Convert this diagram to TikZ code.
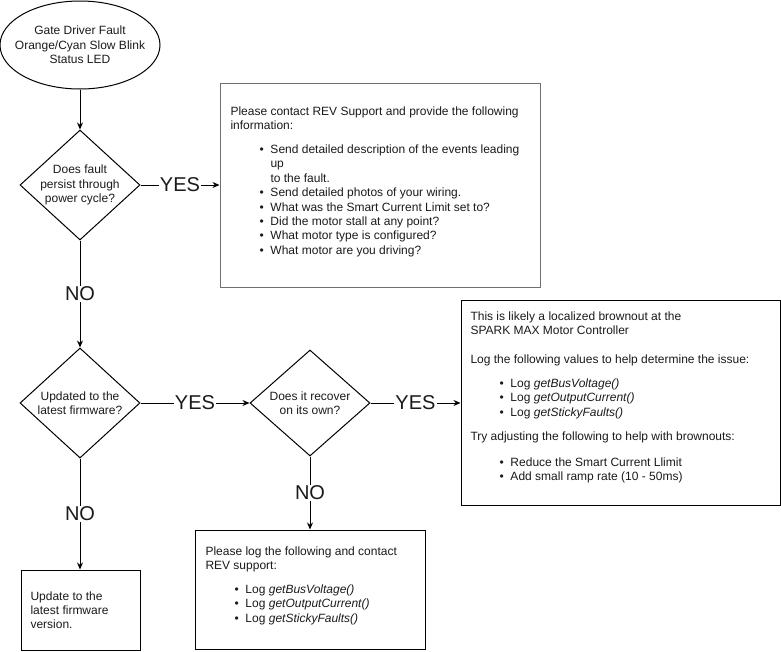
\documentclass[tikz,border=0pt]{standalone}
\usepackage{fontspec}
\setmainfont{Liberation Sans}
\usetikzlibrary{shapes.geometric,arrows.meta}
\definecolor{boxgray}{HTML}{707070}
\definecolor{txtc}{HTML}{1A1A1A}
\newcommand\blt{\makebox[40pt][l]{\hspace{29pt}\textbullet}}
\begin{document}
\begin{tikzpicture}[x=1pt,y=-1pt, line width=1pt,
  tx/.style={font=\fontsize{12}{14.4}\selectfont, inner sep=0pt, text=txtc},
  ctx/.style={tx, align=center},
  lbl/.style={font=\fontsize{20}{24}\selectfont, fill=white, inner sep=1pt, text=txtc},
  shp/.style={draw, inner sep=0pt},
  dia/.style={shp, diamond, minimum width=120pt, minimum height=#1},
  arr/.style={-{Stealth[length=7pt,width=6pt]}}]
\useasboundingbox (0,0) rectangle (781,651);

% shapes
\node[shp, ellipse, minimum width=160pt, minimum height=88pt] (start) at (80,45) {};
\node[ctx] (startt) at (start.center) {Gate Driver Fault\\Orange/Cyan Slow Blink\\Status LED};

\node[dia=110pt] (d1) at (80,185) {};
\node[ctx] (d1t) at (d1.center) {Does fault\\persist through\\power cycle?};

\node[dia=110pt] (d2) at (80,403) {};
\node[ctx] (d2t) at (d2.center) {Updated to the\\latest firmware?};

\node[dia=106pt] (d3) at (310,403) {};
\node[ctx] (d3t) at (d3.center) {Does it recover\\on its own?};

\node[shp, rectangle, draw=boxgray, minimum width=320pt, minimum height=204pt] (b1) at (380,185) {};
\node[shp, rectangle, minimum width=319pt, minimum height=205pt] (b3) at (620.5,402.5) {};
\node[shp, rectangle, minimum width=230pt, minimum height=119pt] (b4) at (310,589.5) {};
\node[shp, rectangle, minimum width=119pt, minimum height=80pt] (b2) at (80.5,610) {};

% box texts
\node[tx, anchor=base west] (b1t) at (230,115) {\begin{tabular}[t]{@{}l@{}}
Please contact REV Support and provide the following\\
information:\\[9.6pt]
\blt Send detailed description of the events leading\\
\hspace*{40pt}up\\
\hspace*{40pt}to the fault.\\
\blt Send detailed photos of your wiring.\\
\blt What was the Smart Current Limit set to?\\
\blt Did the motor stall at any point?\\
\blt What motor type is configured?\\
\blt What motor are you driving?
\end{tabular}};

\node[tx, anchor=base west] (b3t) at (470,320) {\begin{tabular}[t]{@{}l@{}}
This is likely a localized brownout at the\\
SPARK MAX Motor Controller\\[14.4pt]
Log the following values to help determine the issue:\\[9.6pt]
\blt Log \textit{getBusVoltage()}\\
\blt Log \textit{getOutputCurrent()}\\
\blt Log \textit{getStickyFaults()}\\[9.6pt]
Try adjusting the following to help with brownouts:\\[12pt]
\blt Reduce the Smart Current Llimit\\
\blt Add small ramp rate (10 - 50ms)
\end{tabular}};

\node[tx, anchor=base west] (b4t) at (205,555) {\begin{tabular}[t]{@{}l@{}}
Please log the following and contact\\
REV support:\\[9.6pt]
\blt Log \textit{getBusVoltage()}\\
\blt Log \textit{getOutputCurrent()}\\
\blt Log \textit{getStickyFaults()}
\end{tabular}};

\node[tx, anchor=base west] (b2t) at (30,600) {\begin{tabular}[t]{@{}l@{}}
Update to the\\
latest firmware\\
version.
\end{tabular}};

% connectors
\draw[arr] (start) -- (d1);
\draw[arr] (d1.east) -- node[lbl] (yes1) {YES} (d1.east -| b1.west);
\draw[arr] (d1.south) -- node[lbl] (no1) {NO} (d2.north);
\draw[arr] (d2.east) -- node[lbl] (yes2) {YES} (d3.west);
\draw[arr] (d3.east) -- node[lbl] (yes3) {YES} (d3.east -| b3.west);
\draw[arr] (d3.south) -- node[lbl] (no3) {NO} (b4.north);
\draw[arr] (d2.south) -- node[lbl] (no2) {NO} (d2.south |- b2.north);
\end{tikzpicture}
\end{document}
